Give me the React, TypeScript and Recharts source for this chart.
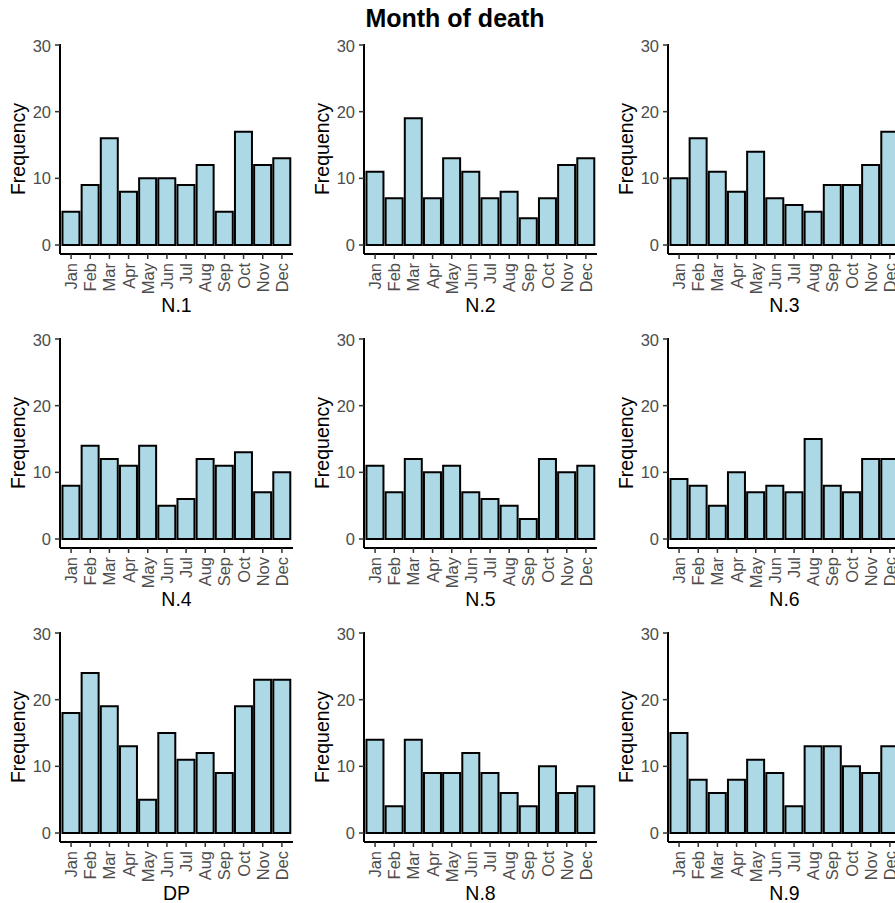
import React from 'react';
import { BarChart, Bar, XAxis, YAxis } from 'recharts';

const months = ['Jan', 'Feb', 'Mar', 'Apr', 'May', 'Jun', 'Jul', 'Aug', 'Sep', 'Oct', 'Nov', 'Dec'];

const n1 = [5, 9, 16, 8, 10, 10, 9, 12, 5, 17, 12, 13];
const n2 = [11, 7, 19, 7, 13, 11, 7, 8, 4, 7, 12, 13];
const n3 = [10, 16, 11, 8, 14, 7, 6, 5, 9, 9, 12, 17];
const n4 = [8, 14, 12, 11, 14, 5, 6, 12, 11, 13, 7, 10];
const n5 = [11, 7, 12, 10, 11, 7, 6, 5, 3, 12, 10, 11];
const n6 = [9, 8, 5, 10, 7, 8, 7, 15, 8, 7, 12, 12];
const dp = [18, 24, 19, 13, 5, 15, 11, 12, 9, 19, 23, 23];
const n8 = [14, 4, 14, 9, 9, 12, 9, 6, 4, 10, 6, 7];
const n9 = [15, 8, 6, 8, 11, 9, 4, 13, 13, 10, 9, 13];

const panelNames = ['N.1', 'N.2', 'N.3', 'N.4', 'N.5', 'N.6', 'DP', 'N.8', 'N.9'];
const panelValues = [n1, n2, n3, n4, n5, n6, dp, n8, n9];
const yTicks = [0, 10, 20, 30];

const FONT = '"Liberation Sans", Arial, Helvetica, sans-serif';
const CELL_W = 304;
const CELL_H = 294;
const colX = [0, 304, 608];
const rowY = [36, 330, 624];

const MonthTick = (props: any) => {
  const { x, y, payload } = props;
  return (
    <text
      x={x}
      y={y}
      transform={`rotate(-90 ${x} ${y})`}
      textAnchor="end"
      dominantBaseline="central"
      fontSize={16.5}
      fontFamily={FONT}
      fill="#4D4D4D"
    >
      {payload.value}
    </text>
  );
};

const Panel = ({ name, values }: { name: string; values: number[] }) => {
  const data = months.map((m, i) => ({ month: m, count: values[i] }));
  return (
    <BarChart
      width={CELL_W}
      height={CELL_H}
      data={data}
      margin={{ top: 8, right: 11, bottom: 0, left: 0 }}
      barCategoryGap="5%"
    >
      <XAxis
        dataKey="month"
        interval={0}
        height={76}
        padding={{ left: 1.5, right: 1.5 }}
        axisLine={{ stroke: '#000', strokeWidth: 2 }}
        tickLine={{ stroke: '#333', strokeWidth: 1.5 }}
        tickSize={5}
        tickMargin={4}
        tick={<MonthTick />}
        label={{
          content: (p: any) => {
            const vb = p.viewBox;
            return (
              <text
                x={vb.x + vb.width / 2}
                y={vb.y + 58}
                textAnchor="middle"
                fontSize={19.5}
                fontFamily={FONT}
                fill="#000"
              >
                {name}
              </text>
            );
          },
        }}
      />
      <YAxis
        type="number"
        width={60}
        domain={[-1.35, 30.15]}
        ticks={yTicks}
        allowDataOverflow
        axisLine={{ stroke: '#000', strokeWidth: 2 }}
        tickLine={{ stroke: '#333', strokeWidth: 1.5 }}
        tickSize={5}
        tickMargin={4}
        tick={{ fill: '#4D4D4D', fontSize: 16.5, fontFamily: FONT }}
        label={{
          content: (p: any) => {
            const vb = p.viewBox;
            const cx = vb.x + 24.5;
            const cy = vb.y + vb.height / 2;
            return (
              <text
                x={cx}
                y={cy}
                transform={`rotate(-90 ${cx} ${cy})`}
                textAnchor="middle"
                fontSize={19.5}
                fontFamily={FONT}
                fill="#000"
              >
                Frequency
              </text>
            );
          },
        }}
      />
      <Bar dataKey="count" fill="#ADD8E6" stroke="#000" strokeWidth={2} isAnimationActive={false} />
    </BarChart>
  );
};

export default function App() {
  return (
    <div style={{ position: 'relative', width: 895, height: 903, overflow: 'hidden', background: '#fff' }}>
      <style>{'body { margin: 0; }'}</style>
      <svg width={895} height={40} style={{ position: 'absolute', left: 0, top: 0 }}>
        <text x={455} y={27} textAnchor="middle" fontSize={25} fontWeight="bold" fontFamily={FONT} fill="#000">
          Month of death
        </text>
      </svg>
      {panelNames.map((name, i) => (
        <div
          key={name}
          style={{ position: 'absolute', left: colX[i % 3], top: rowY[Math.floor(i / 3)], width: CELL_W, height: CELL_H }}
        >
          <Panel name={name} values={panelValues[i]} />
        </div>
      ))}
    </div>
  );
}
